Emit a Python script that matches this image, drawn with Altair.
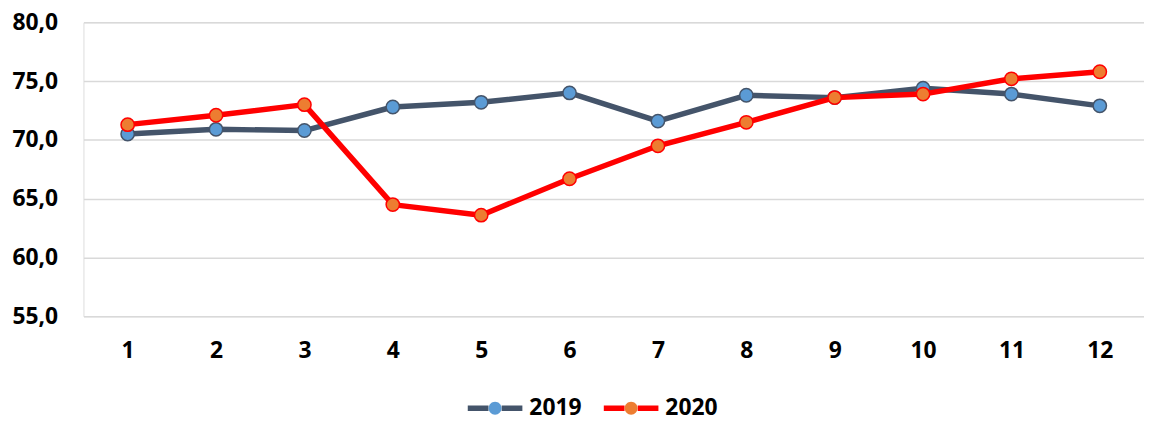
import altair as alt
import pandas as pd

months = [str(m) for m in range(1, 13)]
series_names = ["2019", "2020"]
fill_keys = ["f2019", "f2020"]
v2019 = [70.5, 70.9, 70.8, 72.8, 73.2, 74.0, 71.6, 73.8, 73.6, 74.4, 73.9, 72.9]
v2020 = [71.3, 72.1, 73.0, 64.5, 63.6, 66.7, 69.5, 71.5, 73.6, 73.9, 75.2, 75.8]
line_colors = ["#44546A", "#FF0000"]
fill_colors = ["#5B9BD5", "#ED7D31"]

rows = []
for m, a, b in zip(months, v2019, v2020):
    rows.append({"month": m, "value": a, "series": series_names[0], "sf": fill_keys[0]})
    rows.append({"month": m, "value": b, "series": series_names[1], "sf": fill_keys[1]})
df = pd.DataFrame(rows)

FONT = "Open Sans"
FS = 23
W, H = 1068, 296

# legend symbol paths (unit box -1..1, scaled by sqrt(size)/2 = 27.5 px)
extent = "M-1,0M1,0M0,-0.3M0,0.3"
stroke_path = "M-1,0L-0.24,0M0.24,0L1,0" + extent
r = 0.236
fill_path = f"M{r},0A{r},{r},0,1,1,{-r},0A{r},{r},0,1,1,{r},0Z" + extent

LX, LY = 384, 358
SW = 5.5

stroke_legend = alt.Legend(
    orient="none", legendX=LX, legendY=LY, direction="horizontal", title=None,
    symbolType=stroke_path, symbolSize=3025, symbolStrokeWidth=SW,
    labelFont=FONT, labelFontSize=FS, labelFontWeight="bold", labelColor="#000000",
    labelOffset=4, columnPadding=11,
)
fill_legend = alt.Legend(
    orient="none", legendX=LX, legendY=LY, direction="horizontal", title=None,
    symbolType=fill_path, symbolSize=3025, symbolStrokeWidth=SW,
    symbolStrokeColor="transparent", symbolOpacity=1,
    labelFont=FONT, labelFontSize=FS, labelFontWeight="bold", labelOpacity=0,
    labelExpr="substring(datum.label, 1)",
    labelOffset=4, columnPadding=11,
)

x_enc = alt.X("month:N", sort=months,
              scale=alt.Scale(type="point", padding=0.5),
              axis=alt.Axis(title=None, labelAngle=0, ticks=False, domain=False,
                            grid=False, labelFont=FONT, labelFontSize=FS,
                            labelFontWeight="bold", labelColor="#000000",
                            labelPadding=24))
y_enc = alt.Y("value:Q", scale=alt.Scale(domain=[55, 80], nice=False, zero=False),
              axis=alt.Axis(title=None, values=[55, 60, 65, 70, 75, 80],
                            labelExpr="replace(format(datum.value, '.1f'), '.', ',')",
                            ticks=False, domain=False, grid=True,
                            gridColor="#D9D9D9", gridWidth=1.5,
                            labelFont=FONT, labelFontSize=FS, labelFontWeight="bold",
                            labelColor="#000000", labelPadding=26))
stroke_enc = alt.Stroke("series:N", scale=alt.Scale(domain=series_names, range=line_colors),
                        legend=stroke_legend)
fill_enc = alt.Fill("sf:N", scale=alt.Scale(domain=fill_keys, range=fill_colors),
                    legend=fill_legend)

base = alt.Chart(df)
layers = []
for s in series_names:
    sub = base.transform_filter(alt.datum.series == s)
    layers.append(sub.mark_line(strokeWidth=5.5, strokeCap="round", strokeJoin="round")
                  .encode(x=x_enc, y=y_enc, stroke=stroke_enc))
    layers.append(sub.mark_point(filled=True, size=180, strokeWidth=1.5, opacity=1,
                                 fillOpacity=1, strokeOpacity=1)
                  .encode(x=x_enc, y=y_enc, stroke=stroke_enc, fill=fill_enc))

chart = alt.layer(*layers).properties(
    width=W, height=H,
    autosize=alt.AutoSizeParams(type="none"),
    padding={"left": 76, "top": 13, "right": 0, "bottom": 106},
).configure_view(stroke=None).configure(background="#FFFFFF")

chart.save("out.html", embed_options={"renderer": "svg", "actions": False})
